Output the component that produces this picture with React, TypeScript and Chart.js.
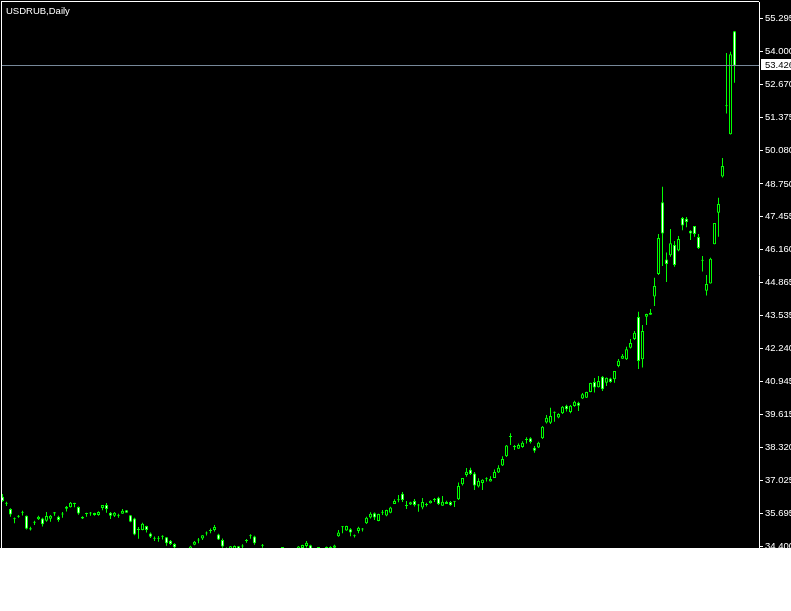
import { useEffect, useRef } from "react";
import { Chart, registerables } from "chart.js";

Chart.register(...registerables);

const TITLE = "USDRUB,Daily";

const OPEN = [
  36.37, 36.10, 35.88, 35.49, 35.58, 35.74, 35.62, 35.07, 35.34, 35.48,
  35.51, 35.42, 35.50, 35.71, 35.58, 35.67, 35.89, 35.95, 36.08, 35.96,
  35.51, 35.69, 35.71, 35.65, 35.65, 35.92, 36.04, 35.74, 35.62, 35.62,
  35.70, 35.83, 35.64, 35.51, 35.05, 35.05, 35.21, 34.91, 34.71, 34.71,
  34.79, 34.77, 34.63, 34.50, 34.25, 34.15, 34.20, 34.25, 34.47, 34.64,
  34.72, 34.91, 35.01, 35.05, 34.88, 34.66, 34.30, 34.25, 34.25, 34.41,
  34.40, 34.62, 34.81, 34.80, 34.25, 34.43, 34.30, 34.22, 34.10, 34.00,
  34.08, 34.05, 34.12, 34.20, 34.30, 34.34, 34.42, 34.45, 34.28, 34.20,
  34.22, 34.30, 34.33, 34.35, 34.81, 35.16, 35.03, 35.08, 34.81, 35.01,
  35.07, 35.32, 35.55, 35.72, 35.41, 35.74, 35.63, 35.74, 36.08, 36.23,
  36.49, 36.00, 36.06, 36.20, 36.02, 35.94, 36.04, 36.11, 36.24, 36.33,
  36.01, 36.16, 36.16, 36.17, 36.27, 36.86, 37.23, 37.44, 37.29, 36.77,
  36.91, 37.06, 36.97, 37.11, 37.33, 37.61, 37.97, 38.73, 38.34, 38.27,
  38.34, 38.61, 38.68, 38.31, 38.32, 38.68, 39.31, 39.30, 39.69, 39.51,
  39.67, 39.97, 39.72, 39.96, 40.09, 40.26, 40.29, 40.51, 40.91, 40.70,
  41.12, 40.88, 41.05, 41.02, 41.54, 41.83, 41.81, 42.27, 42.61, 43.48,
  41.81, 43.49, 43.57, 44.29, 45.18, 48.02, 45.76, 45.93, 46.33, 46.11,
  47.40, 47.37, 46.90, 47.08, 46.65, 45.71, 44.52, 44.81, 46.36, 47.61,
  49.04, 51.82, 50.71, 54.79,
];

const HIGH = [
  36.48, 36.17, 35.91, 35.55, 35.65, 35.82, 35.63, 35.18, 35.42, 35.62,
  35.54, 35.77, 35.65, 35.77, 35.62, 35.77, 36.00, 36.16, 36.13, 35.98,
  35.60, 35.74, 35.77, 35.74, 35.80, 36.04, 36.12, 35.77, 35.77, 35.70,
  35.88, 35.84, 35.65, 35.54, 35.17, 35.34, 35.22, 34.95, 34.80, 34.82,
  34.85, 34.78, 34.66, 34.53, 34.30, 34.28, 34.32, 34.43, 34.62, 34.74,
  34.85, 34.99, 35.11, 35.25, 34.90, 34.72, 34.36, 34.42, 34.44, 34.42,
  34.49, 34.70, 34.89, 34.83, 34.32, 34.50, 34.33, 34.28, 34.20, 34.12,
  34.18, 34.15, 34.25, 34.30, 34.42, 34.47, 34.62, 34.47, 34.32, 34.30,
  34.33, 34.40, 34.41, 34.47, 35.05, 35.21, 35.22, 35.12, 34.88, 35.18,
  35.13, 35.58, 35.76, 35.75, 35.70, 35.84, 35.85, 35.97, 36.27, 36.44,
  36.56, 36.20, 36.17, 36.28, 36.08, 36.32, 36.13, 36.23, 36.32, 36.37,
  36.40, 36.21, 36.20, 36.20, 36.93, 37.11, 37.51, 37.52, 37.35, 37.10,
  37.06, 37.14, 37.18, 37.45, 37.62, 37.97, 38.42, 38.88, 38.42, 38.48,
  38.57, 38.72, 38.72, 38.38, 38.55, 39.17, 39.60, 39.89, 39.74, 39.67,
  39.96, 40.01, 40.00, 40.17, 40.13, 40.47, 40.52, 40.88, 41.07, 41.15,
  41.15, 41.09, 41.08, 41.35, 41.82, 42.02, 42.31, 42.61, 42.93, 43.69,
  43.17, 43.61, 43.80, 45.04, 46.77, 48.64, 46.03, 46.96, 46.49, 46.69,
  47.44, 47.44, 46.92, 47.08, 46.77, 45.90, 45.14, 45.83, 47.20, 48.20,
  49.77, 53.93, 53.98, 54.80,
];

const LOW = [
  36.17, 36.00, 35.58, 35.32, 35.54, 35.63, 35.07, 35.03, 35.25, 35.45,
  35.19, 35.38, 35.38, 35.62, 35.38, 35.54, 35.79, 35.94, 35.95, 35.66,
  35.49, 35.58, 35.62, 35.62, 35.62, 35.83, 35.74, 35.49, 35.57, 35.54,
  35.70, 35.74, 35.36, 34.85, 34.71, 35.04, 34.95, 34.74, 34.62, 34.59,
  34.68, 34.43, 34.46, 34.30, 34.10, 34.05, 34.12, 34.20, 34.45, 34.53,
  34.66, 34.84, 34.92, 34.99, 34.66, 34.35, 34.15, 34.20, 34.20, 34.20,
  34.20, 34.55, 34.71, 34.47, 34.10, 34.35, 34.15, 34.05, 33.95, 33.90,
  33.98, 33.92, 34.05, 34.10, 34.25, 34.30, 34.36, 34.25, 34.10, 34.10,
  34.15, 34.20, 34.25, 34.30, 34.79, 34.92, 35.02, 34.81, 34.76, 34.92,
  34.99, 35.29, 35.51, 35.45, 35.40, 35.65, 35.60, 35.72, 36.08, 36.15,
  36.16, 35.88, 36.04, 35.98, 35.78, 35.87, 35.98, 36.10, 36.16, 36.04,
  36.01, 36.08, 36.01, 35.96, 36.24, 36.81, 37.16, 37.23, 36.64, 36.74,
  36.64, 36.97, 36.97, 37.11, 37.31, 37.59, 37.94, 38.42, 38.22, 38.26,
  38.31, 38.48, 38.48, 38.11, 38.30, 38.65, 39.27, 39.25, 39.34, 39.48,
  39.64, 39.74, 39.67, 39.93, 39.76, 40.24, 40.28, 40.50, 40.49, 40.69,
  40.55, 40.75, 40.88, 40.88, 41.49, 41.82, 41.78, 42.24, 42.57, 41.42,
  41.48, 43.17, 43.57, 43.92, 45.14, 45.50, 44.87, 45.87, 45.47, 46.08,
  46.92, 47.03, 46.53, 46.66, 46.17, 45.28, 44.33, 44.81, 46.36, 46.66,
  49.00, 51.54, 50.70, 52.75,
];

const CLOSE = [
  36.20, 36.09, 35.67, 35.48, 35.62, 35.74, 35.10, 35.12, 35.34, 35.58,
  35.28, 35.61, 35.62, 35.76, 35.45, 35.67, 35.97, 36.13, 36.08, 35.71,
  35.57, 35.69, 35.71, 35.73, 35.77, 36.04, 35.88, 35.62, 35.74, 35.62,
  35.82, 35.74, 35.38, 34.88, 35.05, 35.30, 35.05, 34.79, 34.71, 34.71,
  34.79, 34.53, 34.50, 34.37, 34.15, 34.20, 34.27, 34.40, 34.59, 34.64,
  34.85, 34.91, 35.01, 35.17, 34.68, 34.40, 34.20, 34.41, 34.42, 34.30,
  34.40, 34.64, 34.81, 34.53, 34.20, 34.43, 34.22, 34.10, 34.00, 34.08,
  34.05, 34.12, 34.20, 34.28, 34.40, 34.46, 34.55, 34.30, 34.20, 34.22,
  34.28, 34.32, 34.36, 34.44, 34.95, 35.16, 35.21, 34.95, 34.81, 35.14,
  35.07, 35.54, 35.70, 35.55, 35.69, 35.74, 35.84, 35.94, 36.20, 36.24,
  36.24, 36.00, 36.15, 36.04, 36.02, 36.16, 36.04, 36.21, 36.24, 36.08,
  36.17, 36.08, 36.03, 36.17, 36.79, 37.11, 37.36, 37.27, 36.81, 36.99,
  37.04, 37.06, 37.07, 37.35, 37.52, 37.86, 38.40, 38.73, 38.36, 38.42,
  38.51, 38.61, 38.54, 38.19, 38.51, 39.14, 39.50, 39.56, 39.70, 39.64,
  39.93, 39.83, 39.97, 40.13, 39.97, 40.43, 40.51, 40.87, 40.69, 40.95,
  40.62, 41.08, 40.91, 41.35, 41.75, 41.95, 42.21, 42.45, 42.86, 41.74,
  42.93, 43.60, 43.65, 44.71, 46.61, 46.79, 45.58, 46.40, 45.54, 46.57,
  47.10, 47.24, 46.79, 46.77, 46.21, 45.71, 44.79, 45.79, 47.20, 47.95,
  49.46, 51.86, 53.88, 53.426,
];

const Y_TICKS = [
  34.4, 35.695, 37.025, 38.32, 39.615, 40.945, 42.24, 43.535, 44.865,
  46.16, 47.455, 48.75, 50.08, 51.375, 52.67, 54.0, 55.295,
];

const BID = 53.426;
const Y_MIN = 34.341;
const Y_MAX = 55.948;
const X_MIN = -0.125;
const X_MAX = 189.125;

const LIME = "#00ff00";
const FONT_FAMILY = "'Liberation Sans', Arial, sans-serif";
const FONT_SIZE = 9.5;

export default function App() {
  const ref = useRef<HTMLCanvasElement | null>(null);

  useEffect(() => {
    document.body.style.margin = "0";
    const canvas = ref.current;
    if (!canvas) return;

    const wicks = OPEN.map((_, i) => ({ x: i, y: [LOW[i], HIGH[i]] }));
    const bodies = OPEN.map((o, i) => ({ x: i, y: [o, CLOSE[i]] }));
    const bodyFill = OPEN.map((o, i) => (CLOSE[i] < o ? "#ffffff" : "#000000"));

    const mtPlugin = {
      id: "mt",
      beforeDraw(chart: any) {
        const ctx = chart.ctx;
        ctx.save();
        ctx.fillStyle = "#000000";
        ctx.fillRect(0, 0, chart.width, chart.height);
        ctx.restore();
      },
      afterDraw(chart: any) {
        const ctx = chart.ctx;
        const area = chart.chartArea;
        const ys = chart.scales.y;
        ctx.save();
        // bid line
        const py = ys.getPixelForValue(BID);
        const row = Math.floor(py);
        ctx.fillStyle = "#778899";
        ctx.fillRect(area.left, row, area.right - area.left, 1);
        // frame
        ctx.fillStyle = "#ffffff";
        ctx.fillRect(1, 1, area.right - 1, 1);
        ctx.fillRect(1, 1, 1, chart.height);
        // title
        ctx.font = `${FONT_SIZE}px ${FONT_FAMILY}`;
        ctx.textBaseline = "alphabetic";
        ctx.textAlign = "left";
        ctx.fillStyle = "#ffffff";
        ctx.fillText(TITLE, 6, 14);
        // bid label
        ctx.fillStyle = "#ffffff";
        ctx.fillRect(area.right + 2, row - 6, chart.width - area.right - 2, 11);
        ctx.fillStyle = "#000000";
        ctx.textBaseline = "middle";
        ctx.fillText(BID.toFixed(3), area.right + 6, row);
        ctx.restore();
      },
    };

    const chart = new Chart(canvas, {
      type: "bar",
      data: {
        datasets: [
          {
            label: "body",
            data: bodies as any,
            order: 1,
            grouped: false,
            barThickness: 3,
            minBarLength: 1,
            inflateAmount: 0,
            borderWidth: 1,
            borderSkipped: false,
            borderColor: LIME,
            backgroundColor: bodyFill,
          } as any,
          {
            label: "wick",
            data: wicks as any,
            order: 2,
            grouped: false,
            barThickness: 1,
            inflateAmount: 0,
            borderWidth: 0,
            backgroundColor: LIME,
          } as any,
        ],
      },
      options: {
        animation: false,
        responsive: false,
        maintainAspectRatio: false,
        events: [],
        layout: { padding: { left: 2, top: 2, right: 0, bottom: 0 } },
        plugins: {
          legend: { display: false },
          tooltip: { enabled: false },
          title: { display: false },
        },
        scales: {
          x: {
            type: "linear",
            display: false,
            min: X_MIN,
            max: X_MAX,
            offset: false,
          },
          y: {
            type: "linear",
            position: "right",
            min: Y_MIN,
            max: Y_MAX,
            afterBuildTicks: (scale: any) => {
              scale.ticks = Y_TICKS.map((v) => ({ value: v }));
            },
            afterFit: (scale: any) => {
              scale.width = 32;
              scale.paddingTop = 0;
              scale.paddingBottom = 0;
            },
            ticks: {
              autoSkip: false,
              padding: 2,
              color: "#ffffff",
              font: { family: FONT_FAMILY, size: FONT_SIZE },
              callback: (v: any) => Number(v).toFixed(3),
            },
            grid: {
              drawOnChartArea: false,
              drawTicks: true,
              tickLength: 4,
              color: "#ffffff",
            },
            border: { display: true, color: "#ffffff", width: 1 },
          },
        },
      } as any,
      plugins: [mtPlugin],
    });

    return () => chart.destroy();
  }, []);

  return (
    <div style={{ width: 791, height: 548 }}>
      <canvas ref={ref} width={791} height={548} style={{ display: "block" }} />
    </div>
  );
}
